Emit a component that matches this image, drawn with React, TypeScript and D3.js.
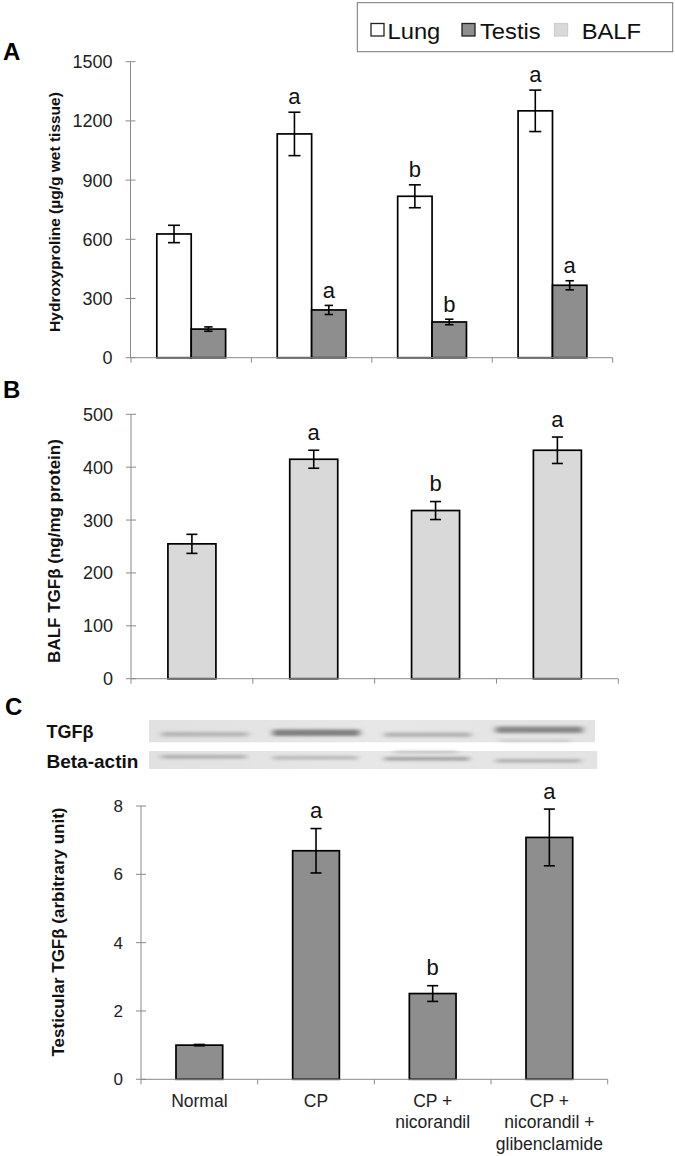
import React from "react";
import * as d3 from "d3";

const groups = ["Normal", "CP", "CP + nicorandil", "CP + nicorandil + glibenclamide"];
const groupLabelLines = [["Normal"], ["CP"], ["CP +", "nicorandil"], ["CP +", "nicorandil +", "glibenclamide"]];

const lungHyp = [627, 1134, 818, 1251];
const lungHypErr = [44, 110, 58, 105];
const lungLetters = ["", "a", "b", "a"];
const testisHyp = [145, 242, 181, 367];
const testisHypErr = [11, 23, 14, 23];
const testisLetters = ["", "a", "b", "a"];

const balfTgf = [255, 415, 318, 432];
const balfTgfErr = [18, 17, 17, 25];
const balfLetters = ["", "a", "b", "a"];

const testisTgf = [1.0, 6.69, 2.51, 7.08];
const testisTgfErr = [0.02, 0.65, 0.23, 0.83];
const testisTgfLetters = ["", "a", "b", "a"];

const ticksA = [0, 300, 600, 900, 1200, 1500];
const ticksB = [0, 100, 200, 300, 400, 500];
const ticksC = [0, 2, 4, 6, 8];

const legendItems = ["Lung", "Testis", "BALF"];
const blotTgfIntensity = [0.28, 0.6, 0.3, 0.55];
const blotActinIntensity = [0.32, 0.28, 0.42, 0.32];

const FONT = "'Liberation Sans', Arial, Helvetica, sans-serif";
const C_LUNG = "#ffffff";
const C_TESTIS = "#8e8e8e";
const C_BALF = "#d9d9d9";
const AXIS = "#8a8a8a";
const TXT = "#222";

function T(props: any) {
  const { x, y, sx = 1, size = 16, weight = "normal", anchor = "middle", fill = TXT, children } = props;
  return (
    <text
      transform={`translate(${x},${y}) scale(${sx},1)`}
      textAnchor={anchor}
      fontSize={size}
      fontWeight={weight}
      fontFamily={FONT}
      fill={fill}
    >
      {children}
    </text>
  );
}

function VLabel(props: any) {
  const { x, y, size, children } = props;
  return (
    <text
      transform={`translate(${x},${y}) rotate(-90)`}
      textAnchor="middle"
      fontSize={size}
      fontWeight="bold"
      fontFamily={FONT}
      fill="#111"
    >
      {children}
    </text>
  );
}

function YAxis({ y, ticks, x, size }: any) {
  const [r0, r1] = y.range();
  return (
    <g>
      <line x1={x} x2={x} y1={r0} y2={r1} stroke={AXIS} strokeWidth={1} />
      {ticks.map((t: number) => (
        <g key={t}>
          <line x1={x - 5} x2={x + 5} y1={y(t)} y2={y(t)} stroke={AXIS} strokeWidth={1} />
          <T x={x - 18} y={y(t) + size * 0.36} anchor="end" size={size}>
            {t}
          </T>
        </g>
      ))}
    </g>
  );
}

function XAxis({ xb, y0 }: any) {
  const [a, b] = xb.range();
  const edges = xb.domain().map((d: string) => xb(d)).concat([b]);
  return (
    <g>
      <line x1={a} x2={b} y1={y0} y2={y0} stroke={AXIS} strokeWidth={1} />
      {edges.map((e: number, i: number) => (
        <line key={i} x1={e} x2={e} y1={y0} y2={y0 + 5} stroke={AXIS} strokeWidth={1} />
      ))}
    </g>
  );
}

function ErrBar({ cx, yTop, yBot, cap = 5.5 }: any) {
  return (
    <g stroke="#000" strokeWidth={1.6}>
      <line x1={cx} x2={cx} y1={yTop} y2={yBot} />
      <line x1={cx - cap} x2={cx + cap} y1={yTop} y2={yTop} />
      <line x1={cx - cap} x2={cx + cap} y1={yBot} y2={yBot} />
    </g>
  );
}

function Letter({ cx, y, children }: any) {
  if (!children) return null;
  return (
    <T x={cx} y={y} size={22} fill="#111">
      {children}
    </T>
  );
}

export default function App() {
  // Panel A
  const yA = d3.scaleLinear().domain([0, 1500]).range([357.7, 61.7]);
  const xA = d3.scaleBand().domain(groups).range([131, 612.7]).padding(0);
  const bwA = 34.4;

  // Panel B
  const yB = d3.scaleLinear().domain([0, 500]).range([678.7, 414.3]);
  const xB = d3.scaleBand().domain(groups).range([131, 618.3]).padding(0);
  const bwB = 48;

  // Panel C
  const yC = d3.scaleLinear().domain([0, 8]).range([1079.3, 806]);
  const xC = d3.scaleBand().domain(groups).range([141, 607.7]).padding(0);
  const bwC = 46.7;

  const blotX0 = 149;
  const blotX1 = 595;
  const laneW = (blotX1 - blotX0) / 4;
  const tgfY = [732, 729.5, 732.5, 726.5];
  const tgfH = [4.5, 6.5, 4.5, 6.5];
  const actY = [755, 756, 757, 759];

  return (
    <svg width={675} height={1156} style={{ position: "absolute", left: 0, top: 0 }}>
      <defs>
        <filter id="blur" x="-20%" y="-200%" width="140%" height="500%">
          <feGaussianBlur stdDeviation="3.2 1.8" />
        </filter>
        <linearGradient id="blotBg" x1="0" x2="1" y1="0" y2="0">
          <stop offset="0" stopColor="#e1e1e1" />
          <stop offset="0.5" stopColor="#e7e7e7" />
          <stop offset="1" stopColor="#e3e3e3" />
        </linearGradient>
      </defs>
      <rect x={0} y={0} width={675} height={1156} fill="#fff" />

      {/* Legend */}
      <rect x={357.3} y={2.7} width={315.4} height={49} fill="#fff" stroke="#777" strokeWidth={1} />
      {legendItems.map((name, i) => {
        const sqX = [371, 462, 554.5][i];
        const txX = [387.5, 480, 581.7][i];
        const fill = [C_LUNG, C_TESTIS, C_BALF][i];
        const stroke = i === 2 ? "#cfcfcf" : "#222";
        return (
          <g key={name}>
            <rect x={sqX} y={23.5} width={13} height={12.5} fill={fill} stroke={stroke} strokeWidth={1.3} />
            <T x={txX} y={38.5} anchor="start" size={22} sx={1.08} fill="#111">
              {name}
            </T>
          </g>
        );
      })}

      {/* Panel letters */}
      <T x={3} y={60} anchor="start" size={24} weight="bold" fill="#000">A</T>
      <T x={3} y={398} anchor="start" size={24} weight="bold" fill="#000">B</T>
      <T x={5} y={715} anchor="start" size={24} weight="bold" fill="#000">C</T>

      {/* Panel A */}
      <YAxis y={yA} ticks={ticksA} x={130.5} size={18} />
      <VLabel x={60} y={212} size={15.5}>Hydroxyproline (µg/g wet  tissue)</VLabel>
      {groups.map((g, i) => {
        const c = (xA(g) as number) + xA.bandwidth() / 2;
        const lx = c - bwA;
        const tx = c;
        return (
          <g key={g}>
            <rect x={lx} y={yA(lungHyp[i])} width={bwA} height={yA(0) - yA(lungHyp[i])} fill={C_LUNG} stroke="#000" strokeWidth={1.7} />
            <rect x={tx} y={yA(testisHyp[i])} width={bwA} height={yA(0) - yA(testisHyp[i])} fill={C_TESTIS} stroke="#000" strokeWidth={1.7} />
            <ErrBar cx={lx + bwA / 2} yTop={yA(lungHyp[i] + lungHypErr[i])} yBot={yA(lungHyp[i] - lungHypErr[i])} cap={6} />
            <ErrBar cx={tx + bwA / 2} yTop={yA(testisHyp[i] + testisHypErr[i])} yBot={yA(testisHyp[i] - testisHypErr[i])} cap={4.2} />
            <Letter cx={lx + bwA / 2} y={yA(lungHyp[i] + lungHypErr[i]) - 8}>{lungLetters[i]}</Letter>
            <Letter cx={tx + bwA / 2} y={yA(testisHyp[i] + testisHypErr[i]) - 7.5}>{testisLetters[i]}</Letter>
          </g>
        );
      })}
      <XAxis xb={xA} y0={yA(0)} />

      {/* Panel B */}
      <YAxis y={yB} ticks={ticksB} x={131} size={18} />
      <VLabel x={60} y={551} size={17}>BALF TGFβ (ng/mg protein)</VLabel>
      {groups.map((g, i) => {
        const c = (xB(g) as number) + xB.bandwidth() / 2;
        return (
          <g key={g}>
            <rect x={c - bwB / 2} y={yB(balfTgf[i])} width={bwB} height={yB(0) - yB(balfTgf[i])} fill={C_BALF} stroke="#000" strokeWidth={1.7} />
            <ErrBar cx={c} yTop={yB(balfTgf[i] + balfTgfErr[i])} yBot={yB(balfTgf[i] - balfTgfErr[i])} />
            <Letter cx={c} y={yB(balfTgf[i] + balfTgfErr[i]) - 10.5}>{balfLetters[i]}</Letter>
          </g>
        );
      })}
      <XAxis xb={xB} y0={yB(0)} />

      {/* Panel C blots */}
      <T x={46.5} y={738.3} anchor="start" size={18} weight="bold" fill="#111">TGFβ</T>
      <T x={46.5} y={768.3} anchor="start" size={19} weight="bold" fill="#111">Beta-actin</T>
      <rect x={blotX0} y={720} width={blotX1 - blotX0} height={22.3} fill="url(#blotBg)" />
      <rect x={blotX0} y={751} width={blotX1 - blotX0 + 2.3} height={18} fill="url(#blotBg)" />
      {blotTgfIntensity.map((v, i) => (
        <rect
          key={"t" + i}
          x={blotX0 + laneW * i + 12}
          y={tgfY[i]}
          width={laneW - 24}
          height={tgfH[i]}
          rx={2}
          fill="#3a3a3a"
          opacity={v}
          filter="url(#blur)"
        />
      ))}
      <rect x={blotX0 + laneW * 3 + 16} y={740} width={laneW - 40} height={1.5} fill="#555" opacity={0.3} filter="url(#blur)" />
      {blotActinIntensity.map((v, i) => (
        <rect
          key={"a" + i}
          x={blotX0 + laneW * i + 12}
          y={actY[i]}
          width={laneW - 26}
          height={3.5}
          rx={1.5}
          fill="#3a3a3a"
          opacity={v}
          filter="url(#blur)"
        />
      ))}
      <rect x={blotX0 + laneW * 2 + 22} y={751} width={laneW - 48} height={1.5} fill="#444" opacity={0.4} filter="url(#blur)" />

      {/* Panel C chart */}
      <YAxis y={yC} ticks={ticksC} x={141} size={17} />
      <VLabel x={64} y={932} size={17}>Testicular TGFβ (arbitrary unit)</VLabel>
      {groups.map((g, i) => {
        const c = (xC(g) as number) + xC.bandwidth() / 2;
        return (
          <g key={g}>
            <rect x={c - bwC / 2} y={yC(testisTgf[i])} width={bwC} height={yC(0) - yC(testisTgf[i])} fill={C_TESTIS} stroke="#000" strokeWidth={1.7} />
            <ErrBar cx={c} yTop={yC(testisTgf[i] + testisTgfErr[i])} yBot={yC(testisTgf[i] - testisTgfErr[i])} />
            <Letter cx={c} y={yC(testisTgf[i] + testisTgfErr[i]) - 10.5}>{testisTgfLetters[i]}</Letter>
            {groupLabelLines[i].map((ln, j) => (
              <T key={j} x={c} y={1106.7 + j * 21.7} size={17.5}>
                {ln}
              </T>
            ))}
          </g>
        );
      })}
      <XAxis xb={xC} y0={yC(0)} />
    </svg>
  );
}
